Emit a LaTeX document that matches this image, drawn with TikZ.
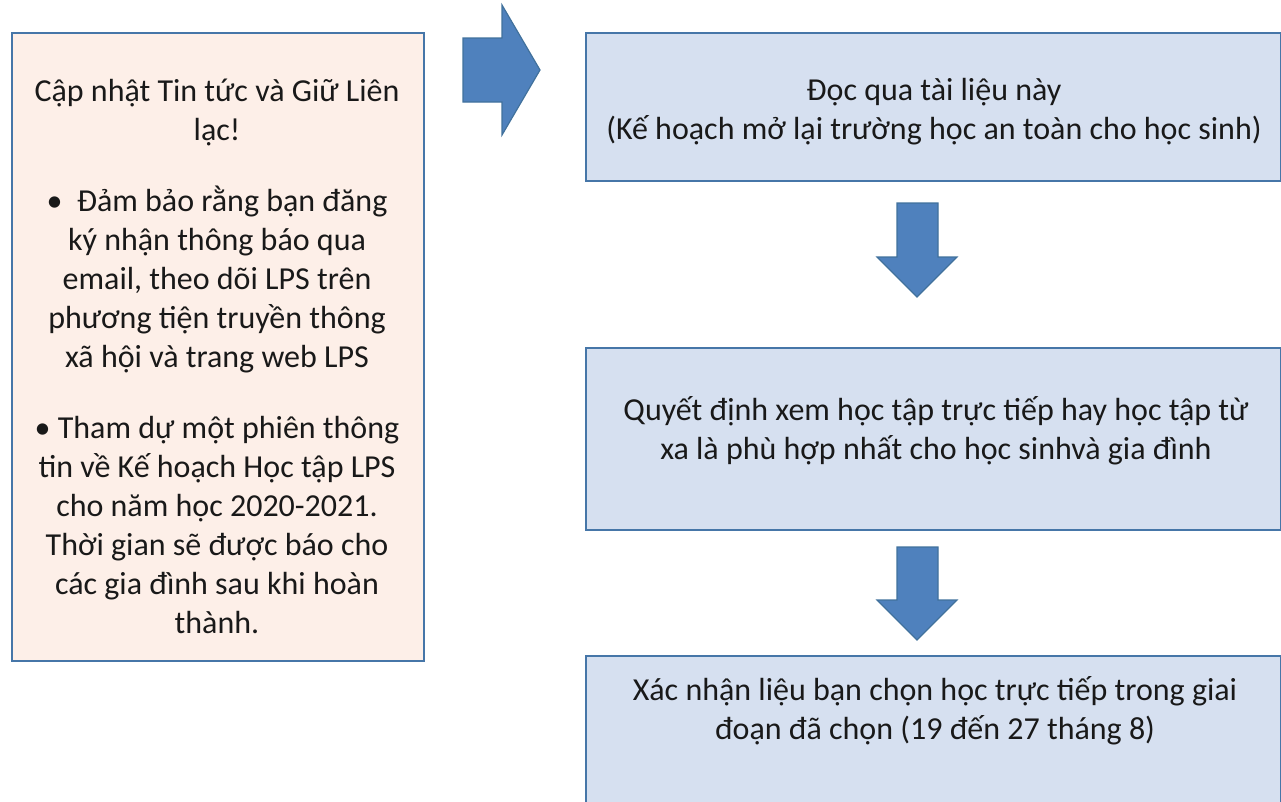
\documentclass[tikz,border=0pt]{standalone}
\usepackage{fontspec}
\setmainfont{Carlito}
\definecolor{arrowfill}{RGB}{79,129,189}
\definecolor{arrowline}{RGB}{65,113,156}
\definecolor{boxline}{RGB}{70,118,168}
\definecolor{bluebox}{RGB}{214,224,240}
\definecolor{peachbox}{RGB}{253,239,232}
\tikzset{
  panel/.style={draw=boxline, line width=2pt, anchor=north west, inner sep=0pt},
  txt/.style={align=center, font=\fontsize{32}{39}\selectfont, text=black!90, inner sep=0pt},
  blockarrow/.style={fill=arrowfill, draw=arrowline, line width=1.2pt, line join=miter}
}
\begin{document}
\begin{tikzpicture}[x=1pt,y=-1pt]
\useasboundingbox (0,0) rectangle (1281,801);
% left info box
\node[panel, fill=peachbox, minimum width=412pt, minimum height=628pt] (info) at (11,32) {};
\node[txt] (infotext) at (217,356) {Cập nhật Tin tức và Giữ Liên\\lạc!\\[32pt]
•\ \ Đảm bảo rằng bạn đăng\\ký nhận thông báo qua\\email, theo dõi LPS trên\\phương tiện truyền thông\\xã hội và trang web LPS\\[32pt]
• Tham dự một phiên thông\\tin về Kế hoạch Học tập LPS\\cho năm học 2020-2021.\\Thời gian sẽ được báo cho\\các gia đình sau khi hoàn\\thành.};
% right boxes
\node[panel, fill=bluebox, minimum width=695pt, minimum height=148pt] (step1) at (585,32) {};
\node[txt] (step1text) at (934,112) {Đọc qua tài liệu này\\(Kế hoạch mở lại trường học an toàn cho học sinh)};
\node[panel, fill=bluebox, minimum width=695pt, minimum height=182pt] (step2) at (585,347) {};
\node[txt] (step2text) at (936,431) {Quyết định xem học tập trực tiếp hay học tập từ\\xa là phù hợp nhất cho học sinhvà gia đình};
\node[panel, fill=bluebox, minimum width=695pt, minimum height=160pt] (step3) at (585,655) {};
\node[txt] (step3text) at (935,711) {Xác nhận liệu bạn chọn học trực tiếp trong giai\\đoạn đã chọn (19 đến 27 tháng 8)};
% right arrow
\draw[blockarrow] (463,38) -- (502,38) -- (502,5) -- (540,70) -- (502,135) -- (502,102) -- (463,102) -- cycle;
% down arrows
\draw[blockarrow] (897,203) -- (938,203) -- (938,257) -- (957,257) -- (917,297) -- (877,257) -- (897,257) -- cycle;
\draw[blockarrow] (897,547) -- (938,547) -- (938,600) -- (957,600) -- (917,640) -- (877,600) -- (897,600) -- cycle;
\end{tikzpicture}
\end{document}
